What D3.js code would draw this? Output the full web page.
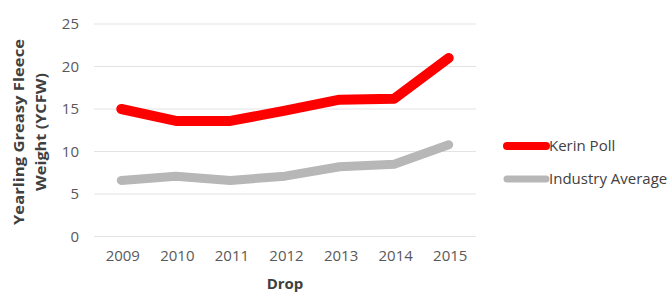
<!DOCTYPE html>
<html>
<head>
<meta charset="utf-8">
<script src="https://cdn.jsdelivr.net/npm/d3@7"></script>
<style>
  body { margin: 0; background: #fff; }
  text { font-family: "Open Sans", "Liberation Sans", sans-serif; }
</style>
</head>
<body>
<svg id="chart" width="671" height="294"></svg>
<script>
var years = ["2009", "2010", "2011", "2012", "2013", "2014", "2015"];
var kerinPoll = [15.0, 13.6, 13.6, 14.8, 16.1, 16.2, 21.0];
var industryAvg = [6.6, 7.1, 6.6, 7.1, 8.2, 8.5, 10.8];
var yTicks = [0, 5, 10, 15, 20, 25];
var seriesNames = ["Kerin Poll", "Industry Average"];
var seriesColors = ["#ff0000", "#b7b7b7"];

var svg = d3.select("#chart");

var x = d3.scalePoint().domain(years).range([94, 476]).padding(0.5);
var y = d3.scaleLinear().domain([0, 25]).range([236.5, 24]);

// gridlines
svg.append("g").selectAll("line")
  .data(yTicks)
  .enter().append("line")
  .attr("x1", 94).attr("x2", 476)
  .attr("y1", function(d){ return y(d); })
  .attr("y2", function(d){ return y(d); })
  .attr("stroke", "#e3e3e3")
  .attr("stroke-width", 1.2);

// y axis labels
var yAxis = d3.axisLeft(y).tickValues(yTicks).tickSize(0).tickPadding(0);
var gy = svg.append("g").attr("transform", "translate(79,0)").call(yAxis);
gy.select(".domain").remove();
gy.selectAll("text").attr("fill", "#595959").style("font-size", "15px");

// x axis labels
var xAxis = d3.axisBottom(x).tickSize(0).tickPadding(0);
var gx = svg.append("g").attr("transform", "translate(1,250)").call(xAxis);
gx.select(".domain").remove();
gx.selectAll("text").attr("fill", "#595959").style("font-size", "15px");

// axis titles
svg.append("text")
  .attr("x", 285).attr("y", 289)
  .attr("text-anchor", "middle")
  .attr("font-weight", "bold")
  .attr("fill", "#404040")
  .style("font-size", "15px")
  .text("Drop");

var yt = svg.append("text")
  .attr("transform", "translate(0,132) rotate(-90)")
  .attr("text-anchor", "middle")
  .attr("font-weight", "bold")
  .attr("fill", "#404040")
  .style("font-size", "15px");
yt.append("tspan").attr("x", 0).attr("y", 24)
  .attr("textLength", 186).attr("lengthAdjust", "spacingAndGlyphs")
  .text("Yearling Greasy Fleece");
yt.append("tspan").attr("x", 0).attr("y", 46)
  .attr("textLength", 118).attr("lengthAdjust", "spacingAndGlyphs")
  .text("Weight (YCFW)");

// lines
var line = d3.line()
  .x(function(d, i){ return x(years[i]); })
  .y(function(d){ return y(d); });

[kerinPoll, industryAvg].forEach(function(s, i){
  svg.append("path")
    .datum(s)
    .attr("d", line)
    .attr("fill", "none")
    .attr("stroke", seriesColors[i])
    .attr("stroke-width", i == 0 ? 10 : 9)
    .attr("stroke-linecap", "round")
    .attr("stroke-linejoin", "round");
});

// legend
var legend = svg.append("g").selectAll("g")
  .data(seriesNames)
  .enter().append("g")
  .attr("transform", function(d, i){ return "translate(503," + (146 + i * 33) + ")"; });

legend.append("line")
  .attr("x1", 4).attr("x2", 43)
  .attr("stroke", function(d, i){ return seriesColors[i]; })
  .attr("stroke-width", function(d, i){ return i == 0 ? 8 : 7; })
  .attr("stroke-linecap", "round");

legend.append("text")
  .attr("x", 46).attr("dy", "0.35em")
  .attr("fill", "#404040")
  .style("font-size", "15px")
  .text(function(d){ return d; });
</script>
</body>
</html>
